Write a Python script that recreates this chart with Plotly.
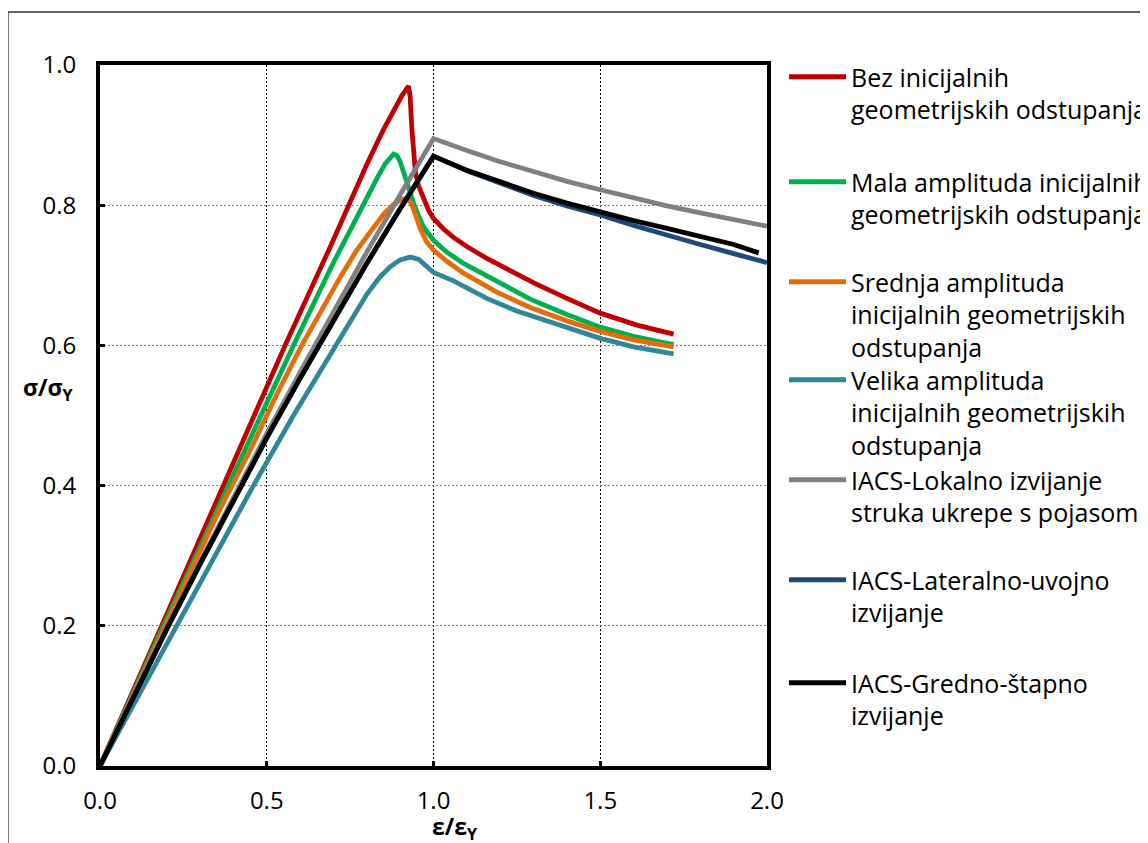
import plotly.graph_objects as go

# ---------------- data ----------------
x_bez = [0, 0.20, 0.42, 0.555, 0.69, 0.747, 0.80, 0.85, 0.88, 0.905, 0.925, 0.930, 0.935, 0.940,
         0.946, 0.955, 0.97, 0.985, 1.0, 1.03, 1.06, 1.10, 1.16, 1.22, 1.31, 1.40, 1.50, 1.61, 1.72]
y_bez = [0, 0.215, 0.451, 0.60, 0.740, 0.802, 0.858, 0.908, 0.936, 0.956, 0.970, 0.955, 0.91, 0.87,
         0.846, 0.828, 0.808, 0.793, 0.781, 0.766, 0.754, 0.741, 0.724, 0.709, 0.687, 0.667, 0.646, 0.629, 0.616]

x_mala = [0, 0.19, 0.435, 0.58, 0.70, 0.76, 0.80, 0.83, 0.855, 0.87, 0.88, 0.89, 0.90, 0.912, 0.925,
          0.94, 0.955, 0.97, 1.0, 1.04, 1.09, 1.20, 1.29, 1.40, 1.50, 1.60, 1.72]
y_mala = [0, 0.20, 0.451, 0.60, 0.718, 0.775, 0.812, 0.838, 0.859, 0.869, 0.873, 0.871, 0.862, 0.845, 0.825,
          0.803, 0.785, 0.769, 0.750, 0.733, 0.717, 0.689, 0.666, 0.644, 0.626, 0.613, 0.601]

x_srednja = [0, 0.20, 0.35, 0.455, 0.53, 0.605, 0.66, 0.72, 0.77, 0.81, 0.85, 0.88, 0.90, 0.918,
             0.932, 0.945, 0.96, 0.979, 1.0, 1.04, 1.09, 1.19, 1.29, 1.40, 1.50, 1.60, 1.72]
y_srednja = [0, 0.205, 0.357, 0.455, 0.530, 0.600, 0.648, 0.697, 0.736, 0.763, 0.787, 0.801, 0.807, 0.810,
             0.804, 0.788, 0.767, 0.748, 0.736, 0.720, 0.703, 0.676, 0.654, 0.635, 0.620, 0.608, 0.598]

x_velika = [0, 0.23, 0.46, 0.58, 0.705, 0.76, 0.80, 0.84, 0.87, 0.90, 0.93, 0.955, 0.98, 1.0,
            1.06, 1.16, 1.25, 1.36, 1.50, 1.60, 1.72]
y_velika = [0, 0.20, 0.40, 0.50, 0.60, 0.643, 0.673, 0.698, 0.712, 0.722, 0.726, 0.723, 0.713, 0.704,
            0.692, 0.667, 0.649, 0.632, 0.610, 0.598, 0.588]

x_lok = [0, 0.1, 0.2, 0.3, 0.4, 0.5, 0.6, 0.7, 0.8, 0.9, 1.0,
         1.1, 1.2, 1.3, 1.4, 1.5, 1.6, 1.7, 1.8, 1.9, 2.0]
y_lok = [0, 0.099, 0.196, 0.291, 0.383, 0.474, 0.562, 0.649, 0.733, 0.815, 0.895,
         0.878, 0.862, 0.848, 0.834, 0.822, 0.810, 0.799, 0.789, 0.779, 0.770]

x_lat = [0, 0.1, 0.2, 0.3, 0.4, 0.5, 0.6, 0.7, 0.8, 0.9, 1.0,
         1.1, 1.2, 1.3, 1.4, 1.5, 1.6, 1.7, 1.8, 1.9, 2.0]
y_lat = [0, 0.099, 0.195, 0.288, 0.379, 0.468, 0.553, 0.636, 0.717, 0.795, 0.870,
         0.849, 0.831, 0.814, 0.799, 0.786, 0.771, 0.757, 0.744, 0.731, 0.718]

x_gred = [0, 0.1, 0.2, 0.3, 0.4, 0.5, 0.6, 0.7, 0.8, 0.9, 1.0,
          1.1, 1.2, 1.3, 1.4, 1.5, 1.6, 1.7, 1.8, 1.9, 1.975]
y_gred = [0, 0.099, 0.195, 0.288, 0.379, 0.468, 0.553, 0.636, 0.717, 0.795, 0.870,
          0.850, 0.833, 0.817, 0.803, 0.790, 0.778, 0.767, 0.756, 0.744, 0.732]

names = [
    "Bez inicijalnih<br>geometrijskih odstupanja",
    "Mala amplituda inicijalnih<br>geometrijskih odstupanja",
    "Srednja amplituda<br>inicijalnih geometrijskih<br>odstupanja",
    "Velika amplituda<br>inicijalnih geometrijskih<br>odstupanja",
    "IACS-Lokalno izvijanje<br>struka ukrepe s pojasom",
    "IACS-Lateralno-uvojno<br>izvijanje",
    "IACS-Gredno-štapno<br>izvijanje",
]
colors = ["#C00000", "#00B050", "#E46C0A", "#31859C", "#808080", "#1F497D", "#000000"]
x_ticks = [0.0, 0.5, 1.0, 1.5, 2.0]
y_ticks = [0.0, 0.2, 0.4, 0.6, 0.8, 1.0]

series = [(x_bez, y_bez), (x_mala, y_mala), (x_srednja, y_srednja), (x_velika, y_velika),
          (x_lok, y_lok), (x_lat, y_lat), (x_gred, y_gred)]

# ---------------- figure ----------------
W, H = 1148, 843
S = 8                       # page offset of the figure inside the browser window
L, R, T, B = 100, 767, 65, 766   # plot area in screen pixels
FONT = "Open Sans"

def px2x(px):
    return (px - L) / (R - L)

def px2y(py):
    return (B - py) / (B - T)

fig = go.Figure()
legend_line_centers = [78, 183, 283, 381, 481, 581, 684]
for i, ((xs, ys), nm, col) in enumerate(zip(series, names, colors)):
    lg = "legend" if i == 0 else f"legend{i+1}"
    fig.add_trace(go.Scatter(x=xs, y=ys, mode="lines", name=nm,
                             line=dict(color=col, width=4.8), legend=lg))

legend_layouts = {}
for i, c in enumerate(legend_line_centers):
    key = "legend" if i == 0 else f"legend{i+1}"
    legend_layouts[key] = dict(
        x=px2x(784), y=px2y(c - 24), xanchor="left", yanchor="top",
        bgcolor="rgba(0,0,0,0)", borderwidth=0,
        font=dict(family=FONT, size=25, color="black"),
        valign="top", itemwidth=57, tracegroupgap=0,
    )

fig.update_layout(
    width=W, height=H,
    margin=dict(l=L - S, r=W - (R - S), t=T - S, b=H - (B - S), autoexpand=False),
    paper_bgcolor="white", plot_bgcolor="white",
    showlegend=True,
    **legend_layouts,
)

fig.update_xaxes(
    range=[0, 2.0], tickvals=x_ticks, tickformat=".1f",
    showline=True, linecolor="black", linewidth=4, mirror=True,
    ticks="inside", ticklen=5, tickwidth=3, tickcolor="black",
    showgrid=True, gridcolor="black", gridwidth=1.3, griddash="2px,2px",
    zeroline=False, ticklabelstandoff=10,
    tickfont=dict(family=FONT, size=24, color="black"),
)
fig.update_yaxes(
    range=[0, 1.0], tickvals=y_ticks, tickformat=".1f",
    showline=True, linecolor="black", linewidth=4, mirror=True,
    ticks="inside", ticklen=5, tickwidth=3, tickcolor="black",
    showgrid=True, gridcolor="#7f7f7f", gridwidth=1.3, griddash="2px,2px",
    zeroline=False, ticklabelstandoff=15,
    tickfont=dict(family=FONT, size=24, color="black"),
)

# axis titles
fig.add_annotation(x=px2x(48), y=px2y(388), xref="paper", yref="paper",
                   xanchor="center", yanchor="middle",
                   text="<b>σ/σ<sub>Y</sub></b>", showarrow=False,
                   font=dict(family=FONT, size=23, color="black"))
fig.add_annotation(x=px2x(455), y=px2y(827), xref="paper", yref="paper",
                   xanchor="center", yanchor="middle",
                   text="<b>ε/ε<sub>Y</sub></b>", showarrow=False,
                   font=dict(family=FONT, size=23, color="black"))

# outer chart border
fig.add_shape(type="rect", xref="paper", yref="paper",
              x0=px2x(8), x1=px2x(1200), y0=px2y(900), y1=px2y(12),
              line=dict(color="#333333", width=1.3), fillcolor="rgba(0,0,0,0)", layer="below")

fig.write_html("out.html")
